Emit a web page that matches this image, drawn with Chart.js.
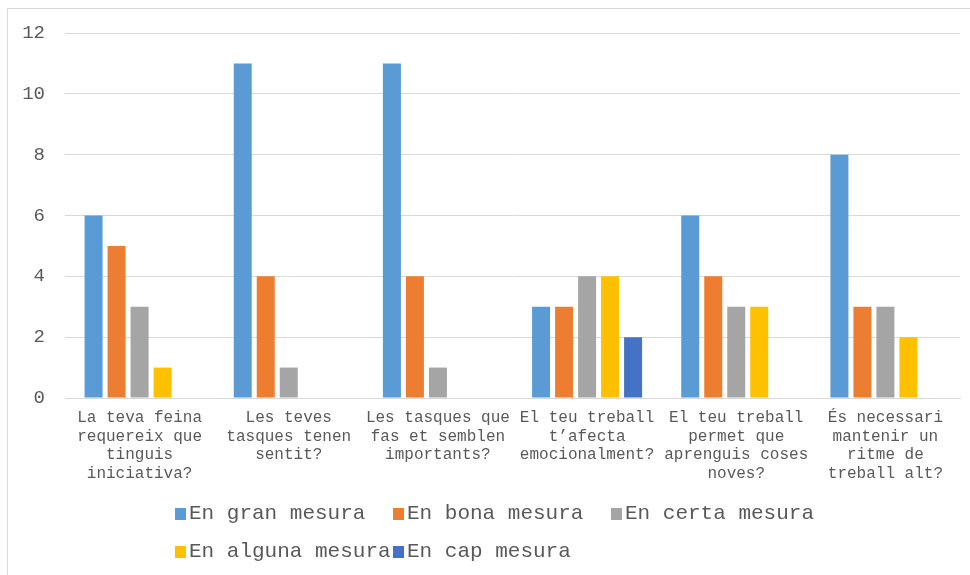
<!DOCTYPE html>
<html>
<head>
<meta charset="utf-8">
<script src="https://cdn.jsdelivr.net/npm/chart.js@4/dist/chart.umd.min.js"></script>
<style>
  html, body { margin: 0; padding: 0; background: #fff; }
  #wrap { position: relative; width: 970px; height: 575px; overflow: hidden; }
  #frame { position: absolute; left: 7px; top: 8px; width: 980px; height: 600px; border: 1px solid #d9d9d9; box-sizing: border-box; }
  canvas { position: absolute; left: 0; top: 0; }
  #legend { position: absolute; left: 175px; top: 501px; font-family: "Liberation Mono", monospace; font-size: 21px; color: #595959; }
  .row { height: 38px; white-space: nowrap; }
  .item { display: inline-block; width: 218px; line-height: 26px; }
  .mk { display: inline-block; width: 11px; height: 12px; margin-right: 3px; vertical-align: -1px; }
</style>
</head>
<body>
<div id="wrap">
  <div id="frame"></div>
  <canvas id="c" width="970" height="575"></canvas>
  <div id="legend"></div>
</div>
<script>
const categories = [
  ["La teva feina", "requereix que", "tinguis", "iniciativa?"],
  ["Les teves", "tasques tenen", "sentit?"],
  ["Les tasques que", "fas et semblen", "importants?"],
  ["El teu treball", "t’afecta", "emocionalment?"],
  ["El teu treball", "permet que", "aprenguis coses", "noves?"],
  ["És necessari", "mantenir un", "ritme de", "treball alt?"]
];
const seriesNames = ["En gran mesura", "En bona mesura", "En certa mesura", "En alguna mesura", "En cap mesura"];
const granMesura   = [6, 11, 11, 3, 6, 8];
const bonaMesura   = [5, 4, 4, 3, 4, 3];
const certaMesura  = [3, 1, 1, 4, 3, 3];
const algunaMesura = [1, 0, 0, 4, 3, 2];
const capMesura    = [0, 0, 0, 2, 0, 0];
const colors = ["#5B9BD5", "#ED7D31", "#A5A5A5", "#FFC000", "#4472C4"];
const seriesValues = [granMesura, bonaMesura, certaMesura, algunaMesura, capMesura];

const FONT = "'Liberation Mono', 'Courier New', monospace";

new Chart(document.getElementById('c'), {
  type: 'bar',
  data: {
    labels: categories,
    datasets: seriesNames.map((n, i) => ({
      label: n,
      data: seriesValues[i],
      backgroundColor: colors[i],
      borderWidth: 0,
      categoryPercentage: 0.771,
      barPercentage: 0.783
    }))
  },
  options: {
    responsive: false,
    animation: false,
    layout: { padding: { top: 33, right: 10, left: 0, bottom: 0 } },
    plugins: { legend: { display: false }, tooltip: { enabled: false } },
    scales: {
      y: {
        min: 0, max: 12,
        ticks: { stepSize: 2, color: '#595959', font: { family: FONT, size: 19 }, padding: 20 },
        grid: { color: '#d9d9d9', lineWidth: 1, drawTicks: false },
        border: { display: false },
        afterFit: s => { s.width = 65; }
      },
      x: {
        grid: { display: false, drawTicks: false },
        border: { display: true, color: '#d9d9d9', width: 1 },
        ticks: { color: '#595959', font: { family: FONT, size: 16, lineHeight: 1.15 }, padding: 11, maxRotation: 0, autoSkip: false },
        afterFit: s => { s.height = 177; }
      }
    }
  }
});

const leg = document.getElementById('legend');
const rows = [[0, 1, 2], [3, 4]];
rows.forEach(r => {
  const row = document.createElement('div');
  row.className = 'row';
  r.forEach(i => {
    const it = document.createElement('span');
    it.className = 'item';
    const mk = document.createElement('span');
    mk.className = 'mk';
    mk.style.background = colors[i];
    it.appendChild(mk);
    it.appendChild(document.createTextNode(seriesNames[i]));
    row.appendChild(it);
  });
  leg.appendChild(row);
});
</script>
</body>
</html>
